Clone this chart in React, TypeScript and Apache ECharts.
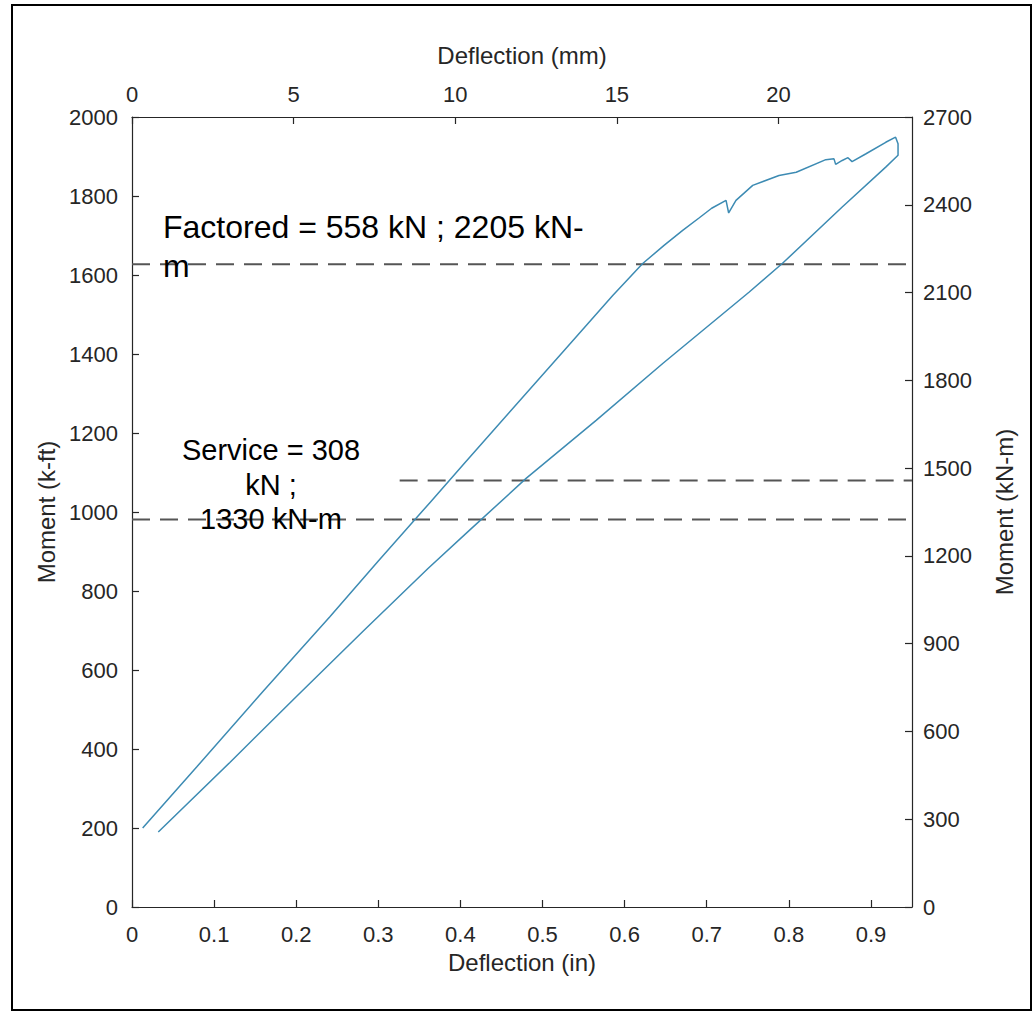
import React, { useEffect, useRef } from "react";
import * as echarts from "echarts";

// Loading branch (in, k-ft)
const loadingDefl = [0.013, 0.079, 0.16, 0.241, 0.3, 0.3625, 0.403, 0.5247, 0.5855, 0.622, 0.648, 0.6707, 0.691, 0.706, 0.7235, 0.7267, 0.7356, 0.756, 0.788, 0.809, 0.845, 0.855, 0.857, 0.865, 0.872, 0.877, 0.894, 0.918, 0.93, 0.933, 0.933];
const loadingMoment = [200, 355, 547, 735, 876, 1023, 1119, 1405, 1548, 1629, 1675, 1713, 1745, 1769, 1789, 1757, 1789, 1827, 1852, 1860, 1892, 1894, 1880, 1890, 1897, 1887, 1907, 1936, 1949, 1932, 1903];
// Unloading branch
const unloadingDefl = [0.918, 0.865, 0.792, 0.7518, 0.6464, 0.5653, 0.48, 0.4112, 0.3605, 0.2814, 0.2003, 0.1192, 0.032];
const unloadingMoment = [1873, 1772, 1629, 1557, 1376, 1232, 1085, 954, 857, 698, 533, 366, 190];

// Reference levels (k-ft) and their x-extent (in)
const factoredLevel = 1627;
const serviceUpperLevel = 1080;
const serviceLowerLevel = 981;
const serviceUpperStart = 0.326;

const xMaxIn = 0.95;
const yMaxKft = 2000;
const yMaxKNm = 2700;

const FONT = "'Liberation Sans', Arial, Helvetica, sans-serif";
const AX = "#262626";

export default function App() {
  const ref = useRef<HTMLDivElement>(null);
  useEffect(() => {
    document.body.style.margin = "0";
    if (!ref.current) return;
    const chart = echarts.init(ref.current, undefined, { renderer: "svg" });
    const loop: number[][] = [];
    loadingDefl.forEach((x, i) => loop.push([x, loadingMoment[i]]));
    unloadingDefl.forEach((x, i) => loop.push([x, unloadingMoment[i]]));
    const dashed = (data: number[][]) => ({
      type: "line",
      data,
      xAxisIndex: 0,
      yAxisIndex: 0,
      symbol: "none",
      silent: true,
      lineStyle: { color: "#555555", width: 2, type: [18, 10] },
      z: 1,
    });
    const axisLineStyle = { show: true, onZero: false, lineStyle: { color: AX, width: 1.2 } };
    const tick = { show: true, inside: true, length: 7, lineStyle: { color: AX, width: 1.2 } };
    const fmt = (v: number) => String(+v.toFixed(2));
    const label = (margin: number) => ({ fontFamily: FONT, fontSize: 22, color: AX, margin, formatter: fmt, showMaxLabel: false });
    const nameStyle = { fontFamily: FONT, fontSize: 24, color: AX };
    chart.setOption({
      animation: false,
      backgroundColor: "#ffffff",
      grid: { left: 132, top: 117, width: 780, height: 790, containLabel: false },
      xAxis: [
        {
          type: "value",
          position: "bottom",
          min: 0,
          max: xMaxIn,
          interval: 0.1,
          name: "Deflection (in)",
          nameLocation: "middle",
          nameGap: 43,
          nameTextStyle: nameStyle,
          axisLine: axisLineStyle,
          axisTick: tick,
          axisLabel: label(16),
          splitLine: { show: false },
        },
        {
          type: "value",
          position: "top",
          min: 0,
          max: xMaxIn * 25.4,
          interval: 5,
          name: "Deflection (mm)",
          nameLocation: "middle",
          nameGap: 50,
          nameTextStyle: nameStyle,
          axisLine: axisLineStyle,
          axisTick: tick,
          axisLabel: label(12),
          splitLine: { show: false },
        },
      ],
      yAxis: [
        {
          type: "value",
          position: "left",
          min: 0,
          max: yMaxKft,
          interval: 200,
          name: "Moment (k-ft)",
          nameLocation: "middle",
          nameGap: 72,
          nameTextStyle: nameStyle,
          axisLine: axisLineStyle,
          axisTick: tick,
          axisLabel: { ...label(14), showMaxLabel: true },
          splitLine: { show: false },
        },
        {
          type: "value",
          position: "right",
          min: 0,
          max: yMaxKNm,
          interval: 300,
          name: "Moment (kN-m)",
          nameLocation: "middle",
          nameGap: 80,
          nameRotate: 90,
          nameTextStyle: nameStyle,
          axisLine: axisLineStyle,
          axisTick: tick,
          axisLabel: { ...label(11), showMaxLabel: true },
          splitLine: { show: false },
        },
      ],
      series: [
        dashed([[0, factoredLevel], [xMaxIn, factoredLevel]]),
        dashed([[serviceUpperStart, serviceUpperLevel], [xMaxIn, serviceUpperLevel]]),
        dashed([[0, serviceLowerLevel], [xMaxIn, serviceLowerLevel]]),
        {
          type: "line",
          data: loop,
          xAxisIndex: 0,
          yAxisIndex: 0,
          symbol: "none",
          lineStyle: { color: "#3d8bb3", width: 1.5 },
          z: 3,
        },
      ],
      graphic: [
        {
          type: "rect",
          shape: { x: 12, y: 5, width: 1019, height: 1005 },
          style: { fill: "none", stroke: "#000000", lineWidth: 2 },
          silent: true,
          z: 10,
        },
        {
          type: "text",
          x: 163,
          y: 227,
          style: { text: "Factored = 558 kN ; 2205 kN-", fontFamily: FONT, fontSize: 32, fill: "#000000", verticalAlign: "middle", align: "left" },
          z: 20,
        },
        {
          type: "text",
          x: 163,
          y: 266,
          style: { text: "m", fontFamily: FONT, fontSize: 32, fill: "#000000", verticalAlign: "middle", align: "left" },
          z: 20,
        },
        {
          type: "text",
          x: 271,
          y: 450,
          style: { text: "Service = 308", fontFamily: FONT, fontSize: 29, fill: "#000000", verticalAlign: "middle", align: "center" },
          z: 20,
        },
        {
          type: "text",
          x: 271,
          y: 485,
          style: { text: "kN ;", fontFamily: FONT, fontSize: 29, fill: "#000000", verticalAlign: "middle", align: "center" },
          z: 20,
        },
        {
          type: "text",
          x: 271,
          y: 519,
          style: { text: "1330 kN-m", fontFamily: FONT, fontSize: 29, fill: "#000000", verticalAlign: "middle", align: "center" },
          z: 20,
        },
      ],
    });
    return () => chart.dispose();
  }, []);
  return <div ref={ref} style={{ width: 1033, height: 1012 }} />;
}
